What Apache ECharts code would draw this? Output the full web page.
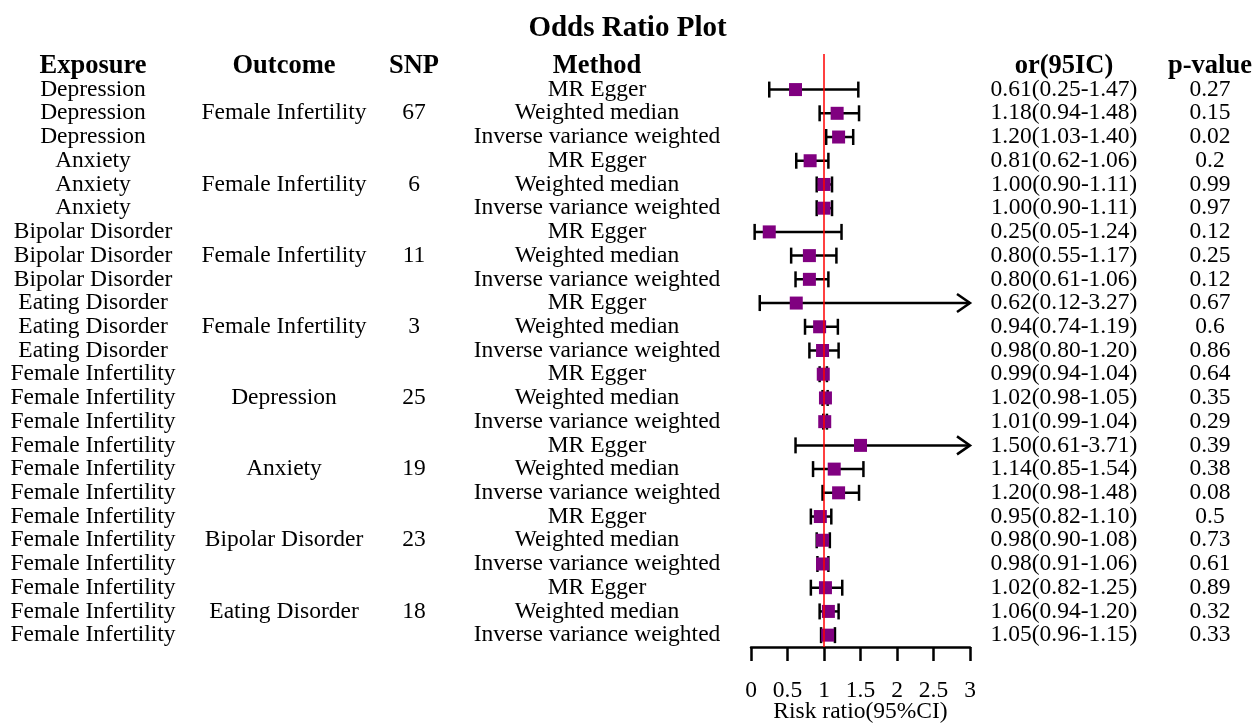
<!DOCTYPE html>
<html>
<head>
<meta charset="utf-8">
<script src="https://cdn.jsdelivr.net/npm/echarts@6/dist/echarts.min.js"></script>
<style>
html,body{margin:0;padding:0;background:#fff;}
#chart{width:1255px;height:725px;}
</style>
</head>
<body>
<div id="chart"></div>
<script>
// ---- data ----
const headers = {exposure:'Exposure', outcome:'Outcome', snp:'SNP', method:'Method', or:'or(95IC)', p:'p-value'};
const exposure = ['Depression','Depression','Depression','Anxiety','Anxiety','Anxiety',
  'Bipolar Disorder','Bipolar Disorder','Bipolar Disorder','Eating Disorder','Eating Disorder','Eating Disorder',
  'Female Infertility','Female Infertility','Female Infertility','Female Infertility','Female Infertility','Female Infertility',
  'Female Infertility','Female Infertility','Female Infertility','Female Infertility','Female Infertility','Female Infertility'];
const outcome = ['','Female Infertility','','','Female Infertility','','','Female Infertility','','','Female Infertility','',
  '','Depression','','','Anxiety','','','Bipolar Disorder','','','Eating Disorder',''];
const snp = ['','67','','','6','','','11','','','3','','','25','','','19','','','23','','','18',''];
const method = ['MR Egger','Weighted median','Inverse variance weighted','MR Egger','Weighted median','Inverse variance weighted',
  'MR Egger','Weighted median','Inverse variance weighted','MR Egger','Weighted median','Inverse variance weighted',
  'MR Egger','Weighted median','Inverse variance weighted','MR Egger','Weighted median','Inverse variance weighted',
  'MR Egger','Weighted median','Inverse variance weighted','MR Egger','Weighted median','Inverse variance weighted'];
const orValue = [0.61,1.18,1.20,0.81,1.00,1.00,0.25,0.80,0.80,0.62,0.94,0.98,0.99,1.02,1.01,1.50,1.14,1.20,0.95,0.98,0.98,1.02,1.06,1.05];
const lower   = [0.25,0.94,1.03,0.62,0.90,0.90,0.05,0.55,0.61,0.12,0.74,0.80,0.94,0.98,0.99,0.61,0.85,0.98,0.82,0.90,0.91,0.82,0.94,0.96];
const upper   = [1.47,1.48,1.40,1.06,1.11,1.11,1.24,1.17,1.06,3.27,1.19,1.20,1.04,1.05,1.04,3.71,1.54,1.48,1.10,1.08,1.06,1.25,1.20,1.15];
const pValue  = [0.27,0.15,0.02,0.2,0.99,0.97,0.12,0.25,0.12,0.67,0.6,0.86,0.64,0.35,0.29,0.39,0.38,0.08,0.5,0.73,0.61,0.89,0.32,0.33];
const xTicks = [0,0.5,1,1.5,2,2.5,3];
const refValue = 1;

// ---- build ----
const FONT = "'Liberation Serif','Times New Roman',serif";
const FS = 23.5;
const HFS = 26.5;
const orText = orValue.map((v,i)=>v.toFixed(2)+'('+lower[i].toFixed(2)+'-'+upper[i].toFixed(2)+')');
const xMin = xTicks[0], xMax = xTicks[xTicks.length-1];

const gridLeft = 751, gridRight = 285;
function colAxis(header, arr, position, center){
  const offset = position === 'left' ? gridLeft - center : center - (1255 - gridRight);
  return {
    type:'category', inverse:true, position:position, offset:offset,
    data:[header].concat(arr.map(String)),
    axisLine:{show:false}, axisTick:{show:false}, splitLine:{show:false},
    axisLabel:{
      interval:0, margin:0, align:'center', color:'#000', fontFamily:FONT, fontSize:FS,
      formatter:(v,i)=> i===0 ? '{h|'+v+'}' : v,
      rich:{h:{fontWeight:'bold', fontFamily:FONT, fontSize:HFS, color:'#000'}}
    }
  };
}

const yAxes = [
  colAxis(headers.exposure, exposure, 'left', 93),
  colAxis(headers.outcome, outcome, 'left', 284),
  colAxis(headers.snp, snp, 'left', 414),
  colAxis(headers.method, method, 'left', 597),
  colAxis(headers.or, orText, 'right', 1064),
  colAxis(headers.p, pValue, 'right', 1210)
];

const seriesData = orValue.map((v,i)=>[i+1, v, lower[i], upper[i]]);

const option = {
  animation:false,
  backgroundColor:'#fff',
  title:{text:'Odds Ratio Plot', left:'center', top:9,
    textStyle:{fontFamily:FONT, fontSize:29, fontWeight:'bold', color:'#000'}},
  grid:{left:gridLeft, right:gridRight, top:54, bottom:78, containLabel:false, outerBoundsMode:'none'},
  xAxis:{
    type:'value', min:xMin, max:xMax, interval:xTicks[1]-xTicks[0],
    name:'Risk ratio(95%CI)', nameLocation:'middle', nameGap:65, nameMoveOverlap:false,
    nameTextStyle:{fontFamily:FONT, fontSize:FS, color:'#000', verticalAlign:'middle'},
    axisLine:{show:true, lineStyle:{color:'#000', width:2.5}},
    axisTick:{show:true, length:14, lineStyle:{color:'#000', width:2.5}},
    axisLabel:{margin:32, color:'#000', fontFamily:FONT, fontSize:FS},
    splitLine:{show:false}
  },
  yAxis: yAxes,
  series:[
    {
      type:'custom',
      xAxisIndex:0, yAxisIndex:0,
      data:seriesData,
      encode:{x:[1,2,3], y:0},
      clip:false,
      z:2,
      renderItem:function(params, api){
        const row = api.value(0), est = api.value(1), lo = api.value(2), hi = api.value(3);
        const over = hi > xMax;
        const pLo = api.coord([lo, row]);
        const pHi = api.coord([Math.min(hi, xMax), row]);
        const pEst = api.coord([est, row]);
        const cap = 8, sq = 13;
        const stroke = {stroke:'#000', lineWidth:2.5};
        const children = [
          {type:'line', shape:{x1:pLo[0], y1:pLo[1], x2:pHi[0], y2:pHi[1]}, style:stroke},
          {type:'line', shape:{x1:pLo[0], y1:pLo[1]-cap, x2:pLo[0], y2:pLo[1]+cap}, style:stroke}
        ];
        if (over) {
          children.push({type:'polyline', shape:{points:[[pHi[0]-13, pHi[1]-9],[pHi[0], pHi[1]],[pHi[0]-13, pHi[1]+9]]}, style:{stroke:'#000', lineWidth:2.5, fill:null}});
        } else {
          children.push({type:'line', shape:{x1:pHi[0], y1:pHi[1]-cap, x2:pHi[0], y2:pHi[1]+cap}, style:stroke});
        }
        children.push({type:'rect', shape:{x:pEst[0]-sq/2, y:pEst[1]-sq/2, width:sq, height:sq}, style:{fill:'#800080'}});
        return {type:'group', children:children};
      }
    },
    {
      type:'line', data:[], xAxisIndex:0, yAxisIndex:0, z:5,
      markLine:{silent:true, symbol:'none', animation:false,
        label:{show:false},
        lineStyle:{color:'#ff0000', width:1.5, type:'solid'},
        data:[{xAxis:refValue}]}
    }
  ]
};

const chart = echarts.init(document.getElementById('chart'), null, {renderer:'canvas'});
chart.setOption(option);
</script>
</body>
</html>
